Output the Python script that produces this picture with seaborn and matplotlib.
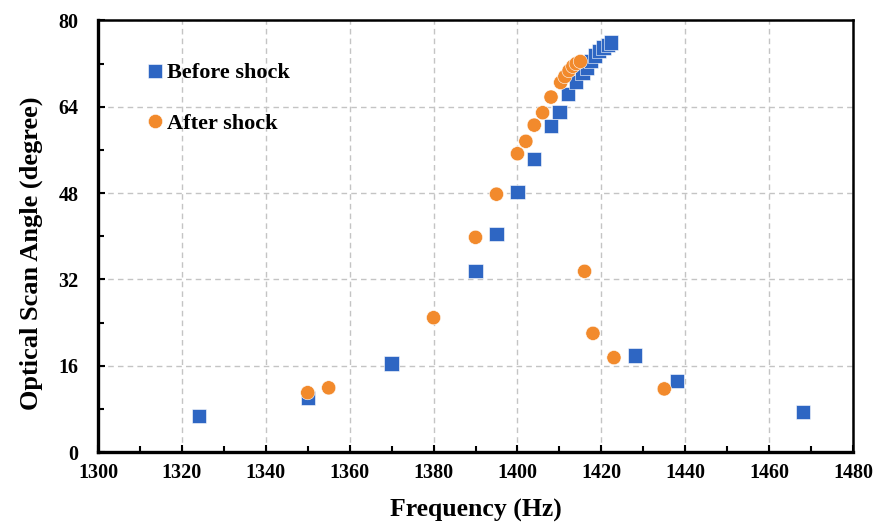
import numpy as np
import pandas as pd
import seaborn as sns
import matplotlib.pyplot as plt
from matplotlib.ticker import MultipleLocator

# data
before_freq = [1324, 1350, 1370, 1390, 1395, 1400, 1404, 1408, 1410, 1412,
               1414, 1415.5, 1416.5, 1417.5, 1418.5, 1419.5, 1420.5, 1421.5, 1422.3,
               1428, 1438, 1468]
before_angle = [6.7, 10.0, 16.4, 33.5, 40.4, 48.2, 54.3, 60.5, 63.0, 66.4,
                68.6, 70.2, 71.3, 72.5, 73.5, 74.3, 75.0, 75.5, 75.9,
                17.9, 13.2, 7.4]

after_freq = [1350, 1355, 1380, 1390, 1395, 1400, 1402, 1404, 1406, 1408,
              1410.3, 1411.3, 1412.3, 1413.2, 1414, 1415,
              1416, 1418, 1423, 1435]
after_angle = [11.0, 11.9, 24.9, 39.8, 47.8, 55.3, 57.6, 60.6, 62.9, 65.8,
               68.5, 69.6, 70.7, 71.5, 72.0, 72.4,
               33.5, 22.0, 17.5, 11.7]

df = pd.concat([
    pd.DataFrame({"freq": before_freq, "angle": before_angle, "series": "Before shock"}),
    pd.DataFrame({"freq": after_freq, "angle": after_angle, "series": "After shock"}),
], ignore_index=True)

sns.set_theme(style="white")
plt.rcParams["font.family"] = ["Liberation Serif", "DejaVu Serif"]
plt.rcParams["font.weight"] = "bold"
plt.rcParams["text.color"] = "black"
plt.rcParams["axes.labelcolor"] = "black"
plt.rcParams["xtick.color"] = "black"
plt.rcParams["ytick.color"] = "black"

fig = plt.figure(figsize=(8.77, 5.25), dpi=100)
ax = fig.add_axes([0.1117, 0.139, 0.861, 0.822])

palette = {"Before shock": "#2E66C3", "After shock": "#F28A2C"}
ax = sns.scatterplot(data=df, x="freq", y="angle", hue="series", style="series",
                     markers={"Before shock": "s", "After shock": "o"},
                     palette=palette, s=105, edgecolor="white", linewidth=0.4,
                     ax=ax, zorder=3)

ax.set_xlim(1300, 1480)
ax.set_ylim(0, 80)
ax.xaxis.set_major_locator(MultipleLocator(20))
ax.xaxis.set_minor_locator(MultipleLocator(10))
ax.yaxis.set_major_locator(MultipleLocator(16))
ax.yaxis.set_minor_locator(MultipleLocator(8))
ax.grid(True, which="major", color="#C4C4C4", linestyle=(0, (4, 3)), linewidth=1.0)
ax.set_axisbelow(True)

for side in ["left", "bottom"]:
    ax.spines[side].set_linewidth(2.4)
for side in ["top", "right"]:
    ax.spines[side].set_linewidth(1.8)
for sp in ax.spines.values():
    sp.set_color("black")

ax.tick_params(which="major", direction="in", length=5, width=1.5, labelsize=14.5,
               bottom=True, left=True)
ax.tick_params(axis="x", which="major", pad=8)
ax.tick_params(axis="y", which="major", pad=14)
ax.tick_params(which="minor", direction="in", length=4, width=1.5,
               bottom=True, left=True)
for lbl in ax.get_xticklabels() + ax.get_yticklabels():
    lbl.set_fontweight("bold")

ax.set_xlabel("Frequency (Hz)", fontsize=18.5, fontweight="bold", labelpad=11)
ax.set_ylabel("Optical Scan Angle (degree)", fontsize=19, fontweight="bold")
ax.yaxis.set_label_coords(-0.073, 0.46)

leg = ax.legend(loc="upper left", bbox_to_anchor=(0.034, 0.948), frameon=False,
                prop={"size": 16, "weight": "bold"}, handletextpad=0.05,
                labelspacing=1.35, markerscale=1.0, handlelength=1.0)

fig.savefig("out.png", dpi=100)
